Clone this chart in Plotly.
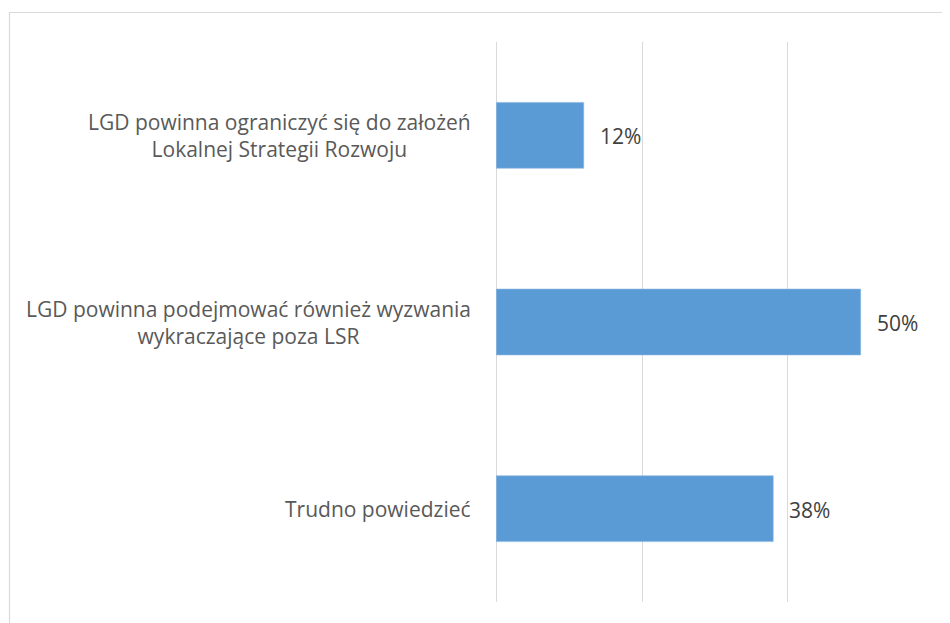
"""Horizontal bar chart: opinions on the scope of LGD activity"""

from plotly import graph_objects as go

categories: list[str] = [
    "LGD powinna ograniczyć się do założeń<br>Lokalnej Strategii Rozwoju",
    "LGD powinna podejmować również wyzwania<br>wykraczające poza LSR",
    "Trudno powiedzieć",
]
shares: list[float] = [0.12, 0.50, 0.38]
share_labels: list[str] = ["12%", "50%", "38%"]

BAR_COLOR = "#5B9BD5"
GRID_COLOR = "#D9D9D9"
FONT = "Open Sans, Noto Sans, sans-serif"

fig = go.Figure(
    go.Bar(
        x=shares,
        y=categories,
        orientation="h",
        width=0.353,
        marker={"color": BAR_COLOR, "line": {"color": "#8DB7E3", "width": 0.6}},
        hoverinfo="skip",
    )
)

# category labels as centred multi-line annotations (right edge next to the axis)
for cat in categories:
    fig.add_annotation(
        x=-0.053,
        xref="paper",
        y=cat,
        yref="y",
        text=cat,
        showarrow=False,
        xanchor="right",
        align="center",
        font={"family": FONT, "size": 21, "color": "#595959"},
    )

# value labels right of each bar
for cat, val, lab in zip(categories, shares, share_labels):
    fig.add_annotation(
        x=val,
        y=cat,
        text=lab,
        showarrow=False,
        xanchor="left",
        xshift=14,
        yshift=-1,
        font={"family": FONT, "size": 21, "color": "#404040"},
    )

# outer chart border
fig.add_shape(
    type="rect",
    xref="paper",
    yref="paper",
    x0=-1.1107,
    x1=1.05,
    y0=-0.05,
    y1=1.0527,
    line={"color": GRID_COLOR, "width": 1.2},
    fillcolor="rgba(0,0,0,0)",
    layer="below",
)

# the page adds an 8px body margin, so the figure is 8px smaller than the window
fig.update_layout(
    width=942,
    height=615,
    margin={"l": 488, "r": 16, "t": 34, "b": 21},
    paper_bgcolor="white",
    plot_bgcolor="white",
    showlegend=False,
    font={"family": FONT},
)
fig.update_xaxes(
    range=[-0.0004, 0.6006],
    dtick=0.2,
    showgrid=True,
    gridcolor=GRID_COLOR,
    gridwidth=1.3,
    zeroline=True,
    zerolinecolor=GRID_COLOR,
    zerolinewidth=1.3,
    showticklabels=False,
    showline=False,
    fixedrange=True,
)
fig.update_yaxes(
    autorange="reversed",
    showticklabels=False,
    showgrid=False,
    zeroline=False,
    showline=False,
    fixedrange=True,
)

fig.write_html("out.html")
